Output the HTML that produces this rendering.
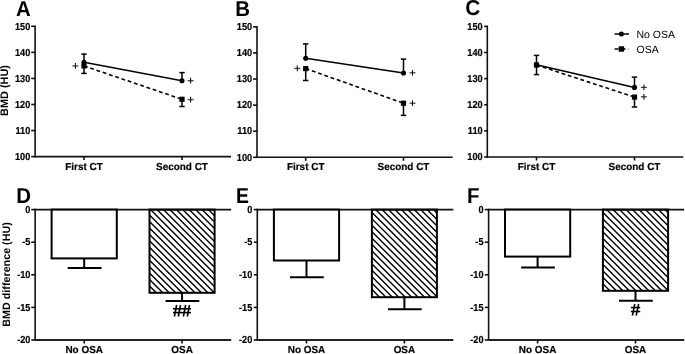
<!DOCTYPE html>
<html><head><meta charset="utf-8"><style>
html,body{margin:0;padding:0;background:#fff;width:685px;height:354px;overflow:hidden}
svg{will-change:transform;text-rendering:geometricPrecision}
</style></head><body>
<svg width="685" height="354" viewBox="0 0 685 354" style="display:block">
<g font-family='"Liberation Sans", sans-serif' fill="#000">
<line x1="35.10" y1="25.50" x2="35.10" y2="157.40" stroke="#111" stroke-width="1.6" />
<line x1="31.20" y1="156.60" x2="35.10" y2="156.60" stroke="#111" stroke-width="1.6" />
<text transform="translate(30.30 159.80) scale(0.9 1.0)" font-size="10.2" text-anchor="end" font-weight="bold"  stroke="#000" stroke-width="0.2">100</text>
<line x1="31.20" y1="130.54" x2="35.10" y2="130.54" stroke="#111" stroke-width="1.6" />
<text transform="translate(30.30 133.74) scale(0.9 1.0)" font-size="10.2" text-anchor="end" font-weight="bold"  stroke="#000" stroke-width="0.2">110</text>
<line x1="31.20" y1="104.48" x2="35.10" y2="104.48" stroke="#111" stroke-width="1.6" />
<text transform="translate(30.30 107.68) scale(0.9 1.0)" font-size="10.2" text-anchor="end" font-weight="bold"  stroke="#000" stroke-width="0.2">120</text>
<line x1="31.20" y1="78.42" x2="35.10" y2="78.42" stroke="#111" stroke-width="1.6" />
<text transform="translate(30.30 81.62) scale(0.9 1.0)" font-size="10.2" text-anchor="end" font-weight="bold"  stroke="#000" stroke-width="0.2">130</text>
<line x1="31.20" y1="52.36" x2="35.10" y2="52.36" stroke="#111" stroke-width="1.6" />
<text transform="translate(30.30 55.56) scale(0.9 1.0)" font-size="10.2" text-anchor="end" font-weight="bold"  stroke="#000" stroke-width="0.2">140</text>
<line x1="31.20" y1="26.30" x2="35.10" y2="26.30" stroke="#111" stroke-width="1.6" />
<text transform="translate(30.30 29.50) scale(0.9 1.0)" font-size="10.2" text-anchor="end" font-weight="bold"  stroke="#000" stroke-width="0.2">150</text>
<line x1="34.30" y1="156.60" x2="231.00" y2="156.60" stroke="#111" stroke-width="1.6" />
<line x1="84.00" y1="156.60" x2="84.00" y2="160.10" stroke="#111" stroke-width="1.6" />
<text transform="translate(84.00 170.10) scale(0.975 1.0)" font-size="10.2" text-anchor="middle" font-weight="bold"  stroke="#000" stroke-width="0.2">First CT</text>
<line x1="182.00" y1="156.60" x2="182.00" y2="160.10" stroke="#111" stroke-width="1.6" />
<text transform="translate(182.00 170.10) scale(0.975 1.0)" font-size="10.2" text-anchor="middle" font-weight="bold"  stroke="#000" stroke-width="0.2">Second CT</text>
<text transform="translate(15.90 15.90) scale(0.95 1.0)" font-size="21.5" text-anchor="start" font-weight="bold" >A</text>
<line x1="84.00" y1="54.10" x2="84.00" y2="62.20" stroke="#000" stroke-width="1.5" />
<line x1="84.00" y1="65.90" x2="84.00" y2="73.40" stroke="#000" stroke-width="1.5" />
<line x1="81.30" y1="54.10" x2="86.70" y2="54.10" stroke="#000" stroke-width="1.5" />
<line x1="81.30" y1="73.40" x2="86.70" y2="73.40" stroke="#000" stroke-width="1.5" />
<line x1="182.00" y1="72.60" x2="182.00" y2="80.70" stroke="#000" stroke-width="1.5" />
<line x1="182.00" y1="99.30" x2="182.00" y2="106.50" stroke="#000" stroke-width="1.5" />
<line x1="179.30" y1="72.60" x2="184.70" y2="72.60" stroke="#000" stroke-width="1.5" />
<line x1="179.30" y1="106.50" x2="184.70" y2="106.50" stroke="#000" stroke-width="1.5" />
<line x1="84.00" y1="62.20" x2="182.00" y2="80.70" stroke="#000" stroke-width="1.5" />
<line x1="84.00" y1="65.90" x2="182.00" y2="99.30" stroke="#000" stroke-width="1.6" stroke-dasharray="3.8 2.8"/>
<circle cx="84" cy="62.2" r="2.55" fill="#000"/>
<circle cx="182" cy="80.7" r="2.55" fill="#000"/>
<rect x="81.40" y="63.30" width="5.2" height="5.2" fill="#000"/>
<rect x="179.40" y="96.70" width="5.2" height="5.2" fill="#000"/>
<line x1="72.4" y1="65.9" x2="78.4" y2="65.9" stroke="#444" stroke-width="1.3"/>
<line x1="75.4" y1="63.050000000000004" x2="75.4" y2="68.75" stroke="#111" stroke-width="1.1"/>
<line x1="187.6" y1="80.7" x2="193.6" y2="80.7" stroke="#444" stroke-width="1.3"/>
<line x1="190.6" y1="77.85000000000001" x2="190.6" y2="83.55" stroke="#111" stroke-width="1.1"/>
<line x1="187.6" y1="99.6" x2="193.6" y2="99.6" stroke="#444" stroke-width="1.3"/>
<line x1="190.6" y1="96.75" x2="190.6" y2="102.44999999999999" stroke="#111" stroke-width="1.1"/>
<line x1="257.00" y1="26.10" x2="257.00" y2="158.10" stroke="#111" stroke-width="1.6" />
<line x1="253.05" y1="157.30" x2="257.00" y2="157.30" stroke="#111" stroke-width="1.6" />
<text transform="translate(252.10 160.50) scale(0.9 1.0)" font-size="10.2" text-anchor="end" font-weight="bold"  stroke="#000" stroke-width="0.2">100</text>
<line x1="253.05" y1="131.22" x2="257.00" y2="131.22" stroke="#111" stroke-width="1.6" />
<text transform="translate(252.10 134.42) scale(0.9 1.0)" font-size="10.2" text-anchor="end" font-weight="bold"  stroke="#000" stroke-width="0.2">110</text>
<line x1="253.05" y1="105.14" x2="257.00" y2="105.14" stroke="#111" stroke-width="1.6" />
<text transform="translate(252.10 108.34) scale(0.9 1.0)" font-size="10.2" text-anchor="end" font-weight="bold"  stroke="#000" stroke-width="0.2">120</text>
<line x1="253.05" y1="79.06" x2="257.00" y2="79.06" stroke="#111" stroke-width="1.6" />
<text transform="translate(252.10 82.26) scale(0.9 1.0)" font-size="10.2" text-anchor="end" font-weight="bold"  stroke="#000" stroke-width="0.2">130</text>
<line x1="253.05" y1="52.98" x2="257.00" y2="52.98" stroke="#111" stroke-width="1.6" />
<text transform="translate(252.10 56.18) scale(0.9 1.0)" font-size="10.2" text-anchor="end" font-weight="bold"  stroke="#000" stroke-width="0.2">140</text>
<line x1="253.05" y1="26.90" x2="257.00" y2="26.90" stroke="#111" stroke-width="1.6" />
<text transform="translate(252.10 30.10) scale(0.9 1.0)" font-size="10.2" text-anchor="end" font-weight="bold"  stroke="#000" stroke-width="0.2">150</text>
<line x1="256.20" y1="157.30" x2="452.60" y2="157.30" stroke="#111" stroke-width="1.6" />
<line x1="305.70" y1="157.30" x2="305.70" y2="160.80" stroke="#111" stroke-width="1.6" />
<text transform="translate(305.70 170.40) scale(0.975 1.0)" font-size="10.2" text-anchor="middle" font-weight="bold"  stroke="#000" stroke-width="0.2">First CT</text>
<line x1="403.50" y1="157.30" x2="403.50" y2="160.80" stroke="#111" stroke-width="1.6" />
<text transform="translate(403.50 170.40) scale(0.975 1.0)" font-size="10.2" text-anchor="middle" font-weight="bold"  stroke="#000" stroke-width="0.2">Second CT</text>
<text transform="translate(235.30 15.90) scale(0.95 1.0)" font-size="21.5" text-anchor="start" font-weight="bold" >B</text>
<line x1="305.70" y1="43.90" x2="305.70" y2="58.30" stroke="#000" stroke-width="1.5" />
<line x1="305.70" y1="68.60" x2="305.70" y2="80.50" stroke="#000" stroke-width="1.5" />
<line x1="303.00" y1="43.90" x2="308.40" y2="43.90" stroke="#000" stroke-width="1.5" />
<line x1="303.00" y1="80.50" x2="308.40" y2="80.50" stroke="#000" stroke-width="1.5" />
<line x1="403.50" y1="59.10" x2="403.50" y2="73.00" stroke="#000" stroke-width="1.5" />
<line x1="403.50" y1="103.20" x2="403.50" y2="115.40" stroke="#000" stroke-width="1.5" />
<line x1="400.80" y1="59.10" x2="406.20" y2="59.10" stroke="#000" stroke-width="1.5" />
<line x1="400.80" y1="115.40" x2="406.20" y2="115.40" stroke="#000" stroke-width="1.5" />
<line x1="305.70" y1="58.30" x2="403.50" y2="73.00" stroke="#000" stroke-width="1.5" />
<line x1="305.70" y1="68.60" x2="403.50" y2="103.20" stroke="#000" stroke-width="1.6" stroke-dasharray="3.8 2.8"/>
<circle cx="305.7" cy="58.3" r="2.55" fill="#000"/>
<circle cx="403.5" cy="73.0" r="2.55" fill="#000"/>
<rect x="303.10" y="66.00" width="5.2" height="5.2" fill="#000"/>
<rect x="400.90" y="100.60" width="5.2" height="5.2" fill="#000"/>
<line x1="294.3" y1="68.4" x2="300.3" y2="68.4" stroke="#444" stroke-width="1.3"/>
<line x1="297.3" y1="65.55000000000001" x2="297.3" y2="71.25" stroke="#111" stroke-width="1.1"/>
<line x1="409.5" y1="72.8" x2="415.5" y2="72.8" stroke="#444" stroke-width="1.3"/>
<line x1="412.5" y1="69.95" x2="412.5" y2="75.64999999999999" stroke="#111" stroke-width="1.1"/>
<line x1="409.5" y1="103.2" x2="415.5" y2="103.2" stroke="#444" stroke-width="1.3"/>
<line x1="412.5" y1="100.35000000000001" x2="412.5" y2="106.05" stroke="#111" stroke-width="1.1"/>
<line x1="487.30" y1="25.60" x2="487.30" y2="157.80" stroke="#111" stroke-width="1.6" />
<line x1="484.10" y1="157.00" x2="487.30" y2="157.00" stroke="#111" stroke-width="1.6" />
<text transform="translate(482.60 160.20) scale(0.9 1.0)" font-size="10.2" text-anchor="end" font-weight="bold"  stroke="#000" stroke-width="0.2">100</text>
<line x1="484.10" y1="130.88" x2="487.30" y2="130.88" stroke="#111" stroke-width="1.6" />
<text transform="translate(482.60 134.08) scale(0.9 1.0)" font-size="10.2" text-anchor="end" font-weight="bold"  stroke="#000" stroke-width="0.2">110</text>
<line x1="484.10" y1="104.76" x2="487.30" y2="104.76" stroke="#111" stroke-width="1.6" />
<text transform="translate(482.60 107.96) scale(0.9 1.0)" font-size="10.2" text-anchor="end" font-weight="bold"  stroke="#000" stroke-width="0.2">120</text>
<line x1="484.10" y1="78.64" x2="487.30" y2="78.64" stroke="#111" stroke-width="1.6" />
<text transform="translate(482.60 81.84) scale(0.9 1.0)" font-size="10.2" text-anchor="end" font-weight="bold"  stroke="#000" stroke-width="0.2">130</text>
<line x1="484.10" y1="52.52" x2="487.30" y2="52.52" stroke="#111" stroke-width="1.6" />
<text transform="translate(482.60 55.72) scale(0.9 1.0)" font-size="10.2" text-anchor="end" font-weight="bold"  stroke="#000" stroke-width="0.2">140</text>
<line x1="484.10" y1="26.40" x2="487.30" y2="26.40" stroke="#111" stroke-width="1.6" />
<text transform="translate(482.60 29.60) scale(0.9 1.0)" font-size="10.2" text-anchor="end" font-weight="bold"  stroke="#000" stroke-width="0.2">150</text>
<line x1="486.50" y1="157.00" x2="683.40" y2="157.00" stroke="#111" stroke-width="1.6" />
<line x1="536.50" y1="157.00" x2="536.50" y2="160.50" stroke="#111" stroke-width="1.6" />
<text transform="translate(536.50 169.70) scale(0.975 1.0)" font-size="10.2" text-anchor="middle" font-weight="bold"  stroke="#000" stroke-width="0.2">First CT</text>
<line x1="634.50" y1="157.00" x2="634.50" y2="160.50" stroke="#111" stroke-width="1.6" />
<text transform="translate(634.50 169.70) scale(0.975 1.0)" font-size="10.2" text-anchor="middle" font-weight="bold"  stroke="#000" stroke-width="0.2">Second CT</text>
<text transform="translate(465.30 15.40) scale(0.97 1.0)" font-size="21.5" text-anchor="start" font-weight="bold" >C</text>
<line x1="536.50" y1="55.40" x2="536.50" y2="64.80" stroke="#000" stroke-width="1.5" />
<line x1="536.50" y1="65.00" x2="536.50" y2="74.60" stroke="#000" stroke-width="1.5" />
<line x1="533.80" y1="55.40" x2="539.20" y2="55.40" stroke="#000" stroke-width="1.5" />
<line x1="533.80" y1="74.60" x2="539.20" y2="74.60" stroke="#000" stroke-width="1.5" />
<line x1="634.50" y1="77.10" x2="634.50" y2="87.40" stroke="#000" stroke-width="1.5" />
<line x1="634.50" y1="97.10" x2="634.50" y2="107.00" stroke="#000" stroke-width="1.5" />
<line x1="631.80" y1="77.10" x2="637.20" y2="77.10" stroke="#000" stroke-width="1.5" />
<line x1="631.80" y1="107.00" x2="637.20" y2="107.00" stroke="#000" stroke-width="1.5" />
<line x1="536.50" y1="64.80" x2="634.50" y2="87.40" stroke="#000" stroke-width="1.5" />
<line x1="536.50" y1="65.00" x2="634.50" y2="97.10" stroke="#000" stroke-width="1.6" stroke-dasharray="3.8 2.8"/>
<circle cx="536.5" cy="64.8" r="2.55" fill="#000"/>
<circle cx="634.5" cy="87.4" r="2.55" fill="#000"/>
<rect x="533.90" y="62.40" width="5.2" height="5.2" fill="#000"/>
<rect x="631.90" y="94.50" width="5.2" height="5.2" fill="#000"/>
<line x1="640.9" y1="87.4" x2="646.9" y2="87.4" stroke="#444" stroke-width="1.3"/>
<line x1="643.9" y1="84.55000000000001" x2="643.9" y2="90.25" stroke="#111" stroke-width="1.1"/>
<line x1="640.9" y1="96.8" x2="646.9" y2="96.8" stroke="#444" stroke-width="1.3"/>
<line x1="643.9" y1="93.95" x2="643.9" y2="99.64999999999999" stroke="#111" stroke-width="1.1"/>
<line x1="614.60" y1="34.00" x2="629.00" y2="34.00" stroke="#000" stroke-width="1.5" />
<circle cx="621.4" cy="34" r="2.5" fill="#000"/>
<line x1="614.60" y1="49.00" x2="629.00" y2="49.00" stroke="#000" stroke-width="1.6" stroke-dasharray="4 3"/>
<rect x="618.7" y="46.3" width="5.4" height="5.4" fill="#000"/>
<text x="636.50" y="37.80" font-size="10.5" text-anchor="start" font-weight="normal" >No OSA</text>
<text x="636.50" y="52.50" font-size="10.5" text-anchor="start" font-weight="normal" >OSA</text>
<text x="0.00" y="0.00" font-size="10.9" text-anchor="middle" font-weight="bold" transform="translate(8.3,90.5) rotate(-90)">BMD (HU)</text>
<text x="0.00" y="0.00" font-size="10.75" text-anchor="middle" font-weight="bold" transform="translate(9.7,274.45) rotate(-90)">BMD difference (HU)</text>
<line x1="35.15" y1="208.80" x2="35.15" y2="340.80" stroke="#111" stroke-width="1.6" />
<line x1="31.30" y1="209.60" x2="35.15" y2="209.60" stroke="#111" stroke-width="1.6" />
<text transform="translate(30.40 212.80) scale(0.9 1.0)" font-size="10.2" text-anchor="end" font-weight="bold"  stroke="#000" stroke-width="0.2">0</text>
<line x1="31.30" y1="242.20" x2="35.15" y2="242.20" stroke="#111" stroke-width="1.6" />
<text transform="translate(30.40 245.40) scale(0.9 1.0)" font-size="10.2" text-anchor="end" font-weight="bold"  stroke="#000" stroke-width="0.2">-5</text>
<line x1="31.30" y1="274.80" x2="35.15" y2="274.80" stroke="#111" stroke-width="1.6" />
<text transform="translate(30.40 278.00) scale(0.9 1.0)" font-size="10.2" text-anchor="end" font-weight="bold"  stroke="#000" stroke-width="0.2">-10</text>
<line x1="31.30" y1="307.40" x2="35.15" y2="307.40" stroke="#111" stroke-width="1.6" />
<text transform="translate(30.40 310.60) scale(0.9 1.0)" font-size="10.2" text-anchor="end" font-weight="bold"  stroke="#000" stroke-width="0.2">-15</text>
<line x1="31.30" y1="340.00" x2="35.15" y2="340.00" stroke="#111" stroke-width="1.6" />
<text transform="translate(30.40 343.20) scale(0.9 1.0)" font-size="10.2" text-anchor="end" font-weight="bold"  stroke="#000" stroke-width="0.2">-20</text>
<line x1="34.35" y1="209.60" x2="231.20" y2="209.60" stroke="#111" stroke-width="1.6" />
<line x1="34.35" y1="340.00" x2="231.20" y2="340.00" stroke="#222" stroke-width="1.8" />
<text transform="translate(16.20 202.90) scale(0.95 1.0)" font-size="21.5" text-anchor="start" font-weight="bold" >D</text>
<rect x="51.6" y="209.6" width="65.20" height="48.80" fill="#fff" stroke="#000" stroke-width="2"/>
<line x1="84.20" y1="258.40" x2="84.20" y2="268.10" stroke="#000" stroke-width="2" />
<line x1="67.70" y1="268.10" x2="101.50" y2="268.10" stroke="#000" stroke-width="2" />
<line x1="84.20" y1="340.00" x2="84.20" y2="343.50" stroke="#111" stroke-width="1.6" />
<text transform="translate(84.20 352.60) scale(0.975 1.0)" font-size="10.2" text-anchor="middle" font-weight="bold"  stroke="#000" stroke-width="0.2">No OSA</text>
<clipPath id="c149"><rect x="149.5" y="209.6" width="65.10" height="83.20"/></clipPath>
<path d="M53.80,209.6L137.00,292.8M60.24,209.6L143.44,292.8M66.69,209.6L149.89,292.8M73.13,209.6L156.33,292.8M79.58,209.6L162.78,292.8M86.02,209.6L169.22,292.8M92.46,209.6L175.66,292.8M98.91,209.6L182.11,292.8M105.35,209.6L188.55,292.8M111.80,209.6L195.00,292.8M118.24,209.6L201.44,292.8M124.68,209.6L207.88,292.8M131.13,209.6L214.33,292.8M137.57,209.6L220.77,292.8M144.02,209.6L227.22,292.8M150.46,209.6L233.66,292.8M156.90,209.6L240.10,292.8M163.35,209.6L246.55,292.8M169.79,209.6L252.99,292.8M176.24,209.6L259.44,292.8M182.68,209.6L265.88,292.8M189.12,209.6L272.32,292.8M195.57,209.6L278.77,292.8M202.01,209.6L285.21,292.8M208.46,209.6L291.66,292.8M214.90,209.6L298.10,292.8" stroke="#000" stroke-width="1.4" clip-path="url(#c149)" fill="none"/>
<rect x="149.5" y="209.6" width="65.10" height="83.20" fill="none" stroke="#000" stroke-width="2"/>
<line x1="182.05" y1="292.80" x2="182.05" y2="300.90" stroke="#000" stroke-width="2" />
<line x1="165.55" y1="300.90" x2="199.35" y2="300.90" stroke="#000" stroke-width="2" />
<line x1="182.05" y1="340.00" x2="182.05" y2="343.50" stroke="#111" stroke-width="1.6" />
<text transform="translate(182.05 352.60) scale(0.975 1.0)" font-size="10.2" text-anchor="middle" font-weight="bold"  stroke="#000" stroke-width="0.2">OSA</text>
<line x1="176.6" y1="305" x2="174.4" y2="316.5" stroke="#000" stroke-width="1.6"/>
<line x1="180.5" y1="305" x2="178.3" y2="316.5" stroke="#000" stroke-width="1.6"/>
<line x1="185.6" y1="305" x2="183.4" y2="316.5" stroke="#000" stroke-width="1.6"/>
<line x1="189.5" y1="305" x2="187.3" y2="316.5" stroke="#000" stroke-width="1.6"/>
<line x1="173" y1="308.8" x2="191" y2="308.8" stroke="#000" stroke-width="1.6"/>
<line x1="173" y1="312.6" x2="191" y2="312.6" stroke="#000" stroke-width="1.6"/>
<line x1="257.30" y1="208.80" x2="257.30" y2="340.80" stroke="#111" stroke-width="1.6" />
<line x1="253.80" y1="209.60" x2="257.30" y2="209.60" stroke="#111" stroke-width="1.6" />
<text transform="translate(252.30 212.80) scale(0.9 1.0)" font-size="10.2" text-anchor="end" font-weight="bold"  stroke="#000" stroke-width="0.2">0</text>
<line x1="253.80" y1="242.20" x2="257.30" y2="242.20" stroke="#111" stroke-width="1.6" />
<text transform="translate(252.30 245.40) scale(0.9 1.0)" font-size="10.2" text-anchor="end" font-weight="bold"  stroke="#000" stroke-width="0.2">-5</text>
<line x1="253.80" y1="274.80" x2="257.30" y2="274.80" stroke="#111" stroke-width="1.6" />
<text transform="translate(252.30 278.00) scale(0.9 1.0)" font-size="10.2" text-anchor="end" font-weight="bold"  stroke="#000" stroke-width="0.2">-10</text>
<line x1="253.80" y1="307.40" x2="257.30" y2="307.40" stroke="#111" stroke-width="1.6" />
<text transform="translate(252.30 310.60) scale(0.9 1.0)" font-size="10.2" text-anchor="end" font-weight="bold"  stroke="#000" stroke-width="0.2">-15</text>
<line x1="253.80" y1="340.00" x2="257.30" y2="340.00" stroke="#111" stroke-width="1.6" />
<text transform="translate(252.30 343.20) scale(0.9 1.0)" font-size="10.2" text-anchor="end" font-weight="bold"  stroke="#000" stroke-width="0.2">-20</text>
<line x1="256.50" y1="209.60" x2="453.30" y2="209.60" stroke="#111" stroke-width="1.6" />
<line x1="256.50" y1="340.00" x2="453.30" y2="340.00" stroke="#222" stroke-width="1.8" />
<text transform="translate(235.90 202.90) scale(0.9 1.0)" font-size="21.5" text-anchor="start" font-weight="bold" >E</text>
<rect x="273.9" y="209.6" width="65.20" height="50.90" fill="#fff" stroke="#000" stroke-width="2"/>
<line x1="306.50" y1="260.50" x2="306.50" y2="277.20" stroke="#000" stroke-width="2" />
<line x1="290.00" y1="277.20" x2="323.80" y2="277.20" stroke="#000" stroke-width="2" />
<line x1="306.50" y1="340.00" x2="306.50" y2="343.50" stroke="#111" stroke-width="1.6" />
<text transform="translate(306.50 352.60) scale(0.975 1.0)" font-size="10.2" text-anchor="middle" font-weight="bold"  stroke="#000" stroke-width="0.2">No OSA</text>
<clipPath id="c371"><rect x="371.9" y="209.6" width="65.00" height="87.60"/></clipPath>
<path d="M272.70,209.6L360.30,297.2M279.13,209.6L366.73,297.2M285.56,209.6L373.16,297.2M291.99,209.6L379.59,297.2M298.42,209.6L386.02,297.2M304.85,209.6L392.45,297.2M311.28,209.6L398.88,297.2M317.71,209.6L405.31,297.2M324.14,209.6L411.74,297.2M330.57,209.6L418.17,297.2M337.00,209.6L424.60,297.2M343.43,209.6L431.03,297.2M349.86,209.6L437.46,297.2M356.29,209.6L443.89,297.2M362.72,209.6L450.32,297.2M369.15,209.6L456.75,297.2M375.58,209.6L463.18,297.2M382.01,209.6L469.61,297.2M388.44,209.6L476.04,297.2M394.87,209.6L482.47,297.2M401.30,209.6L488.90,297.2M407.73,209.6L495.33,297.2M414.16,209.6L501.76,297.2M420.59,209.6L508.19,297.2M427.02,209.6L514.62,297.2M433.45,209.6L521.05,297.2M439.88,209.6L527.48,297.2" stroke="#000" stroke-width="1.4" clip-path="url(#c371)" fill="none"/>
<rect x="371.9" y="209.6" width="65.00" height="87.60" fill="none" stroke="#000" stroke-width="2"/>
<line x1="404.40" y1="297.20" x2="404.40" y2="309.30" stroke="#000" stroke-width="2" />
<line x1="387.90" y1="309.30" x2="421.70" y2="309.30" stroke="#000" stroke-width="2" />
<line x1="404.40" y1="340.00" x2="404.40" y2="343.50" stroke="#111" stroke-width="1.6" />
<text transform="translate(404.40 352.60) scale(0.975 1.0)" font-size="10.2" text-anchor="middle" font-weight="bold"  stroke="#000" stroke-width="0.2">OSA</text>
<line x1="488.60" y1="208.80" x2="488.60" y2="340.80" stroke="#111" stroke-width="1.6" />
<line x1="484.80" y1="209.60" x2="488.60" y2="209.60" stroke="#111" stroke-width="1.6" />
<text transform="translate(483.50 212.80) scale(0.9 1.0)" font-size="10.2" text-anchor="end" font-weight="bold"  stroke="#000" stroke-width="0.2">0</text>
<line x1="484.80" y1="242.20" x2="488.60" y2="242.20" stroke="#111" stroke-width="1.6" />
<text transform="translate(483.50 245.40) scale(0.9 1.0)" font-size="10.2" text-anchor="end" font-weight="bold"  stroke="#000" stroke-width="0.2">-5</text>
<line x1="484.80" y1="274.80" x2="488.60" y2="274.80" stroke="#111" stroke-width="1.6" />
<text transform="translate(483.50 278.00) scale(0.9 1.0)" font-size="10.2" text-anchor="end" font-weight="bold"  stroke="#000" stroke-width="0.2">-10</text>
<line x1="484.80" y1="307.40" x2="488.60" y2="307.40" stroke="#111" stroke-width="1.6" />
<text transform="translate(483.50 310.60) scale(0.9 1.0)" font-size="10.2" text-anchor="end" font-weight="bold"  stroke="#000" stroke-width="0.2">-15</text>
<line x1="484.80" y1="340.00" x2="488.60" y2="340.00" stroke="#111" stroke-width="1.6" />
<text transform="translate(483.50 343.20) scale(0.9 1.0)" font-size="10.2" text-anchor="end" font-weight="bold"  stroke="#000" stroke-width="0.2">-20</text>
<line x1="487.80" y1="209.60" x2="684.20" y2="209.60" stroke="#111" stroke-width="1.6" />
<line x1="487.80" y1="340.00" x2="684.20" y2="340.00" stroke="#222" stroke-width="1.8" />
<text transform="translate(467.10 202.90) scale(0.95 1.0)" font-size="21.5" text-anchor="start" font-weight="bold" >F</text>
<rect x="505" y="209.6" width="65.20" height="47.00" fill="#fff" stroke="#000" stroke-width="2"/>
<line x1="537.60" y1="256.60" x2="537.60" y2="267.60" stroke="#000" stroke-width="2" />
<line x1="521.10" y1="267.60" x2="554.90" y2="267.60" stroke="#000" stroke-width="2" />
<line x1="537.60" y1="340.00" x2="537.60" y2="343.50" stroke="#111" stroke-width="1.6" />
<text transform="translate(537.60 352.60) scale(0.975 1.0)" font-size="10.2" text-anchor="middle" font-weight="bold"  stroke="#000" stroke-width="0.2">No OSA</text>
<clipPath id="c602"><rect x="602.9" y="209.6" width="65.20" height="81.20"/></clipPath>
<path d="M509.23,209.6L590.43,290.8M515.71,209.6L596.91,290.8M522.20,209.6L603.40,290.8M528.69,209.6L609.89,290.8M535.18,209.6L616.38,290.8M541.66,209.6L622.86,290.8M548.15,209.6L629.35,290.8M554.64,209.6L635.84,290.8M561.12,209.6L642.33,290.8M567.61,209.6L648.81,290.8M574.10,209.6L655.30,290.8M580.59,209.6L661.79,290.8M587.08,209.6L668.28,290.8M593.56,209.6L674.76,290.8M600.05,209.6L681.25,290.8M606.54,209.6L687.74,290.8M613.03,209.6L694.23,290.8M619.51,209.6L700.71,290.8M626.00,209.6L707.20,290.8M632.49,209.6L713.69,290.8M638.98,209.6L720.18,290.8M645.46,209.6L726.66,290.8M651.95,209.6L733.15,290.8M658.44,209.6L739.64,290.8M664.93,209.6L746.13,290.8M671.41,209.6L752.61,290.8" stroke="#000" stroke-width="1.4" clip-path="url(#c602)" fill="none"/>
<rect x="602.9" y="209.6" width="65.20" height="81.20" fill="none" stroke="#000" stroke-width="2"/>
<line x1="635.50" y1="290.80" x2="635.50" y2="300.70" stroke="#000" stroke-width="2" />
<line x1="619.00" y1="300.70" x2="652.80" y2="300.70" stroke="#000" stroke-width="2" />
<line x1="635.50" y1="340.00" x2="635.50" y2="343.50" stroke="#111" stroke-width="1.6" />
<text transform="translate(635.50 352.60) scale(0.975 1.0)" font-size="10.2" text-anchor="middle" font-weight="bold"  stroke="#000" stroke-width="0.2">OSA</text>
<line x1="634.8" y1="304" x2="632.4" y2="315.6" stroke="#000" stroke-width="1.6"/>
<line x1="638.6" y1="304" x2="636.2" y2="315.6" stroke="#000" stroke-width="1.6"/>
<line x1="630.9" y1="307.6" x2="640.2" y2="307.6" stroke="#000" stroke-width="1.6"/>
<line x1="630.9" y1="311.5" x2="640.2" y2="311.5" stroke="#000" stroke-width="1.6"/>
</g></svg>
</body></html>
